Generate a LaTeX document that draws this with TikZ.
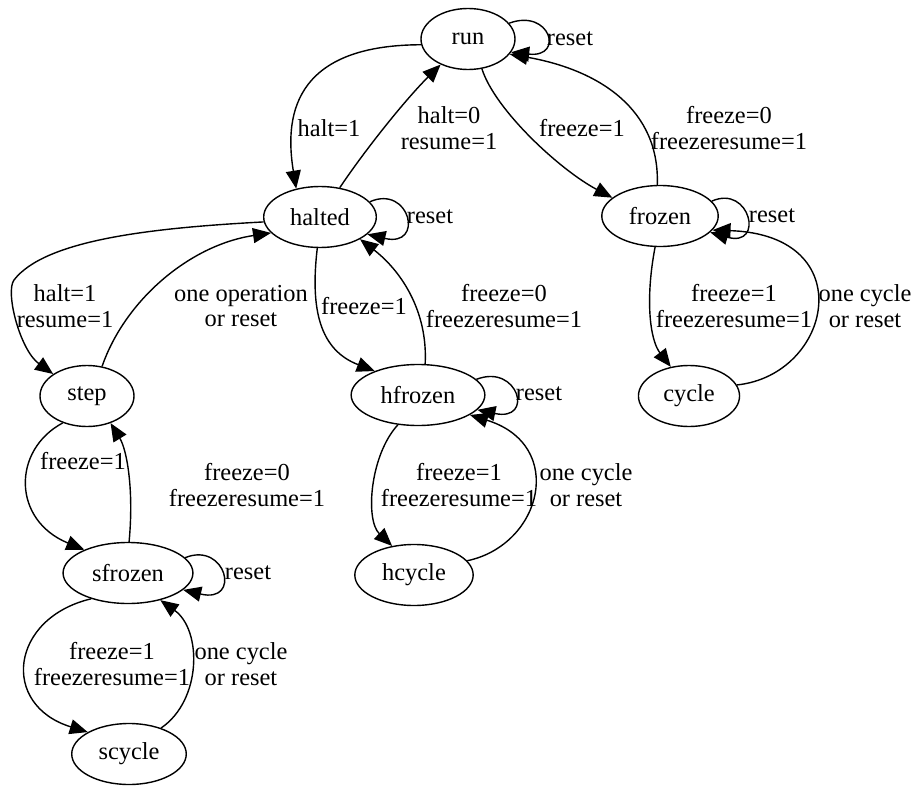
\documentclass[tikz,border=0pt]{standalone}
\usepackage{fontspec}
\setmainfont{Liberation Serif}
\usetikzlibrary{arrows.meta,shapes.geometric}

\begin{document}
\begin{tikzpicture}[
  x=1bp, y=-1bp,
  font=\fontsize{24.5}{26}\selectfont,
  state/.style={draw,ellipse,line width=1.4bp,inner xsep=10bp,inner ysep=3bp,minimum width=94bp,minimum height=61bp},
  lbl/.style={align=center,inner sep=0pt},
  arrow/.style={-{Triangle[length=18bp,width=15bp]},line width=1.4bp}
]
\useasboundingbox (0,0) rectangle (915,788);

\node[state] (run) at (468,39) {run};
\node[state] (halted) at (320,217) {halted};
\node[state] (frozen) at (660,216) {frozen};
\node[state] (step) at (87,396) {step};
\node[state] (hfrozen) at (418,395) {hfrozen};
\node[state] (cycle) at (689,396) {cycle};
\node[state] (sfrozen) at (128,573) {sfrozen};
\node[state] (hcycle) at (414,575) {hcycle};
\node[state] (scycle) at (129,754) {scycle};

\node[lbl] (l-run-reset) at (570,39) {reset};
\node[lbl] (l-halted-reset) at (430,217) {reset};
\node[lbl] (l-frozen-reset) at (772,216) {reset};
\node[lbl] (l-hfrozen-reset) at (539,394) {reset};
\node[lbl] (l-sfrozen-reset) at (248,573) {reset};

\node[lbl] (l-halt) at (329,128) {halt=1};
\node[lbl] (l-unhalt) at (449,128) {halt=0\\resume=1};
\node[lbl] (l-freeze) at (582,128) {freeze=1};
\node[lbl] (l-unfreeze) at (729,128) {freeze=0\\freezeresume=1};
\node[lbl] (l-step) at (65,306) {halt=1\\resume=1};
\node[lbl] (l-unstep) at (241,306) {one operation\\or reset};
\node[lbl] (l-hfreeze) at (364,306) {freeze=1};
\node[lbl] (l-unhfreeze) at (504,306) {freeze=0\\freezeresume=1};
\node[lbl] (l-cycle) at (734,306) {freeze=1\\freezeresume=1};
\node[lbl] (l-uncycle) at (865,306) {one cycle\\or reset};
\node[lbl] (l-sfreeze) at (83,461) {freeze=1};
\node[lbl] (l-unsfreeze) at (247,485) {freeze=0\\freezeresume=1};
\node[lbl] (l-hcycle) at (459,485) {freeze=1\\freezeresume=1};
\node[lbl] (l-unhcycle) at (586,485) {one cycle\\or reset};
\node[lbl] (l-scycle) at (112,664) {freeze=1\\freezeresume=1};
\node[lbl] (l-unscycle) at (241,664) {one cycle\\or reset};

\draw[arrow] (run.21) .. controls (550,8) and (565,58) .. (run.-17);
\draw[arrow] (halted.17) .. controls (410,184) and (425,248) .. (halted.-20);
\draw[arrow] (frozen.16) .. controls (750,184) and (765,248) .. (frozen.-18);
\draw[arrow] (hfrozen.15) .. controls (518,363) and (535,422) .. (hfrozen.-14);
\draw[arrow] (sfrozen.15) .. controls (226,541) and (242,604) .. (sfrozen.-17);

\draw[arrow] (run.187) .. controls (290,45) and (285,120) .. (halted.130);
\draw[arrow] (halted.56) .. controls (365,150) and (405,100) .. (run.223);
\draw[arrow] (run.-65) .. controls (495,110) and (560,170) .. (frozen.159);
\draw[arrow] (frozen.95) .. controls (660,110) and (600,70) .. (run.-20);
\draw[arrow] (halted.185) .. controls (150,228) and (45,240) .. (14,280)
  .. controls (5,292) and (20,350) .. (step.147);
\draw[arrow] (step.63) .. controls (125,300) and (190,245) .. (halted.198);
\draw[arrow] (halted.-95) .. controls (310,310) and (320,350) .. (hfrozen.151);
\draw[arrow] (hfrozen.77) .. controls (428,310) and (400,270) .. (halted.-29);
\draw[arrow] (frozen.-99) .. controls (645,300) and (650,340) .. (cycle.122);
\draw[arrow] (cycle.13) .. controls (832,375) and (862,235) .. (frozen.-15);
\draw[arrow] (step.228) .. controls (12,450) and (12,520) .. (sfrozen.152);
\draw[arrow] (sfrozen.88) .. controls (134,490) and (127,450) .. (step.-49);
\draw[arrow] (hfrozen.236) .. controls (370,455) and (365,520) .. (hcycle.127);
\draw[arrow] (hcycle.15) .. controls (542,545) and (567,445) .. (hfrozen.-21);
\draw[arrow] (sfrozen.215) .. controls (10,618) and (0,705) .. (scycle.152);
\draw[arrow] (scycle.39) .. controls (202,700) and (202,630) .. (sfrozen.-40);
\end{tikzpicture}
\end{document}
